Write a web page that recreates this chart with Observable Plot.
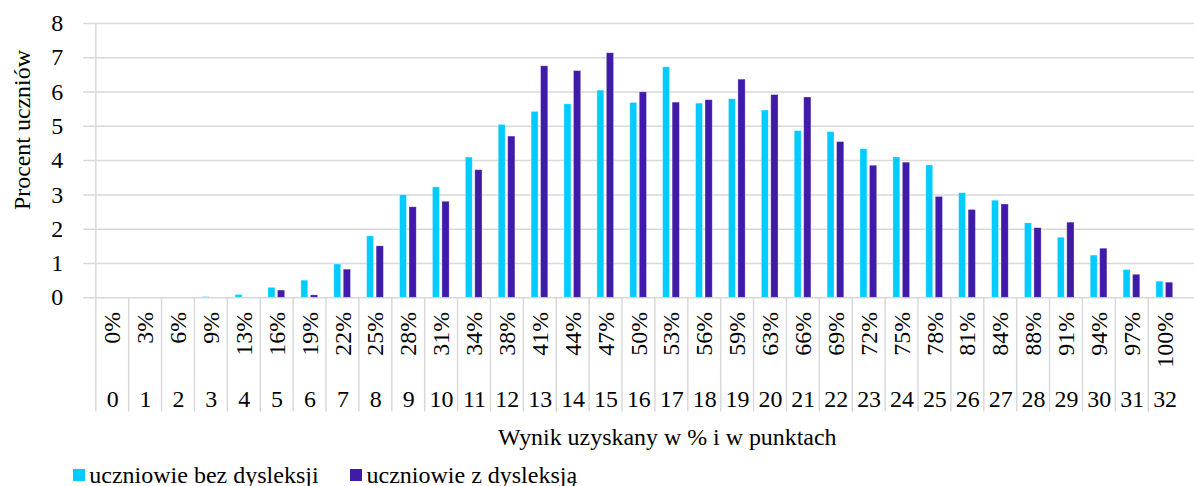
<!DOCTYPE html>
<html>
<head>
<meta charset="utf-8">
<script src="https://cdn.jsdelivr.net/npm/d3@7"></script>
<script src="https://cdn.jsdelivr.net/npm/@observablehq/plot@0.6"></script>
<style>
  html, body { margin: 0; padding: 0; background: #fff; overflow: hidden; width: 1194px; height: 486px; }
  #wrap { position: relative; width: 1194px; height: 486px; font-family: "Liberation Serif", "Times New Roman", serif; }
  #chart svg { display: block; }
  .lg-sq { position: absolute; width: 12px; height: 12px; }
  .lg-tx { position: absolute; font-size: 24px; line-height: 24px; color: #000; white-space: nowrap; }
</style>
</head>
<body>
<div id="wrap">
  <div id="chart"></div>
  <div id="legend"></div>
</div>
<script>
// ---- data ----
const points = ["0","1","2","3","4","5","6","7","8","9","10","11","12","13","14","15","16","17","18","19","20","21","22","23","24","25","26","27","28","29","30","31","32"];
const pctLabels = ["0%","3%","6%","9%","13%","16%","19%","22%","25%","28%","31%","34%","38%","41%","44%","47%","50%","53%","56%","59%","63%","66%","69%","72%","75%","78%","81%","84%","88%","91%","94%","97%","100%"];
const seriesNames = ["uczniowie bez dysleksji", "uczniowie z dysleksją"];
const bezDysleksji = [0,0,0,0.02,0.08,0.29,0.50,0.97,1.79,2.99,3.22,4.09,5.04,5.42,5.64,6.04,5.68,6.72,5.66,5.79,5.46,4.86,4.83,4.33,4.09,3.86,3.05,2.83,2.17,1.75,1.23,0.81,0.47];
const zDysleksja   = [0,0,0,0,0,0.21,0.07,0.82,1.50,2.64,2.80,3.72,4.70,6.75,6.61,7.13,5.99,5.69,5.76,6.36,5.91,5.84,4.54,3.85,3.94,2.94,2.56,2.72,2.03,2.19,1.43,0.67,0.44];
const yTicks = [0,1,2,3,4,5,6,7,8];
const yLabel = "Procent uczniów";
const xLabel = "Wynik uzyskany w % i w punktach";
const colors = ["#00CCFF", "#3F1BA7"];

// ---- table ----
const rows = [];
points.forEach((p, i) => {
  rows.push({cat: p, series: seriesNames[0], value: bezDysleksji[i]});
  rows.push({cat: p, series: seriesNames[1], value: zDysleksja[i]});
});

// ---- layout ----
const W = 1198, H = 455;
const mL = 83.5, mR = 0, mT = 23, mB = H - 298.3;
const bw = (W - mL - mR) / points.length;
const plotH = H - mT - mB;
const grid = "#d9d9d9";
const font = "'Liberation Serif', 'Times New Roman', serif";

const chart = Plot.plot({
  width: W,
  height: H,
  marginLeft: mL,
  marginRight: mR,
  marginTop: mT,
  marginBottom: mB,
  x: {type: "band", domain: points, padding: 0, axis: null},
  y: {domain: [0, 8], axis: null},
  style: {fontFamily: font, fontSize: "24px", color: "#000", background: "#fff", overflow: "visible"},
  marks: [
    Plot.gridY(yTicks, {stroke: grid, strokeOpacity: 1, strokeWidth: 1.5}),
    Plot.ruleX([points[0]], {x: d => d, dx: -bw / 2, stroke: grid, strokeWidth: 1.5}),
    Plot.ruleX(points, {x: d => d, dx: -bw / 2, stroke: grid, strokeWidth: 1.5, insetTop: plotH, insetBottom: -(413 - 298.3)}),
    Plot.barY(rows.filter(d => d.series === seriesNames[0]), {
      x: "cat", y: "value", fill: colors[0],
      stroke: "#ffffff", strokeOpacity: 0.35, strokeWidth: 0.8,
      insetLeft: 7.9, insetRight: bw - 15.6
    }),
    Plot.barY(rows.filter(d => d.series === seriesNames[1]), {
      x: "cat", y: "value", fill: colors[1],
      stroke: "#ffffff", strokeOpacity: 0.35, strokeWidth: 0.8,
      insetLeft: 17.4, insetRight: bw - 25.4
    }),
    Plot.axisY(yTicks, {tickSize: 0, tickPadding: 20.5, label: null, fontSize: 24, fill: "#000", fontFamily: font}),
    Plot.text(points, {
      x: d => d, text: (d, i) => pctLabels[i], frameAnchor: "bottom",
      rotate: -90, textAnchor: "end", lineAnchor: "middle", dy: 14.2,
      fontSize: 24, fill: "#000", fontFamily: font
    }),
    Plot.text(points, {
      x: d => d, text: d => d, frameAnchor: "bottom", lineAnchor: "bottom", dy: 408 - 298.3,
      fontSize: 24, fill: "#000", fontFamily: font
    }),
    Plot.text([yLabel], {
      text: d => d, frameAnchor: "left", rotate: -90, textAnchor: "middle", lineAnchor: "middle",
      dx: 22.3 - mL, dy: 130 - (mT + plotH / 2), fontSize: 24, fill: "#000", fontFamily: font
    }),
    Plot.text([xLabel], {
      text: d => d, frameAnchor: "bottom", textAnchor: "middle", lineAnchor: "bottom",
      dy: 445.7 - 298.3, dx: 669 - (mL + (W - mL - mR) / 2), fontSize: 24, fill: "#000", fontFamily: font
    })
  ]
});
document.getElementById("chart").appendChild(chart);

// ---- legend ----
const legend = document.getElementById("legend");
const legendPos = [{sq: 73.3, tx: 89.3}, {sq: 349.5, tx: 366.5}];
seriesNames.forEach((name, i) => {
  const sq = document.createElement("div");
  sq.className = "lg-sq";
  sq.style.left = legendPos[i].sq + "px";
  sq.style.top = "469px";
  sq.style.background = colors[i];
  legend.appendChild(sq);
  const tx = document.createElement("div");
  tx.className = "lg-tx";
  tx.style.left = legendPos[i].tx + "px";
  tx.style.top = "462.6px";
  tx.textContent = name;
  legend.appendChild(tx);
});
</script>
</body>
</html>
